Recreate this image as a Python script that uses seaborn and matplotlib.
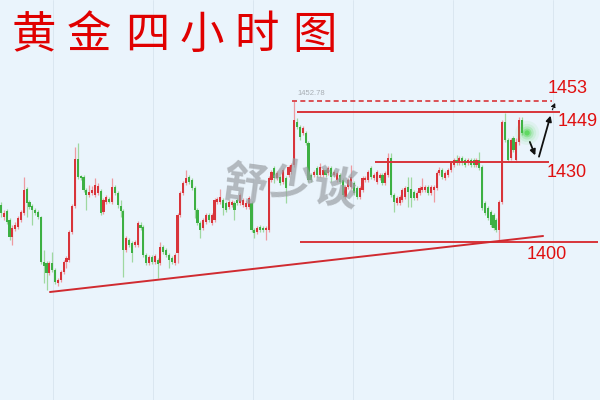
import numpy as np
import pandas as pd
import matplotlib
matplotlib.use("Agg")
import matplotlib.pyplot as plt
import seaborn as sns

title = "黄金四小时图"
watermark = "舒少谈"

opens = [1413.9,1409.4,1411.6,1408.25,1401.9,1404.9,1405.6,1408.25,1410.9,1419.9,
         1415.0,1413.5,1412.0,1411.25,1409.4,1392.5,1392.1,1388.4,1392.1,1389.5,
         1384.6,1385.75,1388.75,1392.5,1393.25,1403.75,1413.5,1431.1,1424.75,1424.4,
         1419.5,1417.6,1418.4,1417.6,1418.4,1419.1,1411.25,1415.0,1416.1,1415.0,
         1420.6,1418.4,1413.5,1411.6,1397.0,1400.75,1399.6,1398.9,1398.9,1406.4,
         1405.6,1395.1,1392.1,1394.4,1392.5,1393.25,1392.1,1398.1,1397.0,1395.1,
         1394.0,1392.1,1395.9,1410.1,1418.4,1422.1,1424.4,1423.25,1420.25,1412.0,
         1407.1,1405.25,1407.5,1410.1,1407.1,1408.25,1415.0,1415.0,1415.75,1414.6,
         1413.1,1413.9,1414.6,1415.75,1414.6,1413.9,1413.1,1413.1,1414.6,1404.5,
         1403.75,1405.6,1405.25,1404.5,1404.5,1423.25,1427.75,1424.0,1424.4,1422.5,
         1424.0,1425.1,1426.25,1428.9,1445.0,1443.1,1440.9,1440.9,1437.1,1425.1,
         1425.1,1427.75,1425.1,1425.1,1427.0,1425.9,1427.75,1425.1,1423.25,1425.1,
         1423.25,1416.9,1420.6,1420.6,1422.1,1420.25,1416.9,1419.5,1423.25,1423.25,
         1427.75,1424.0,1422.5,1424.0,1425.1,1422.1,1425.1,1431.5,1417.6,1414.6,
         1414.6,1415.75,1416.9,1420.6,1419.9,1418.75,1416.5,1418.4,1419.5,1419.5,
         1420.6,1418.4,1419.5,1420.25,1425.9,1427.0,1424.0,1425.1,1427.0,1428.9,
         1430.75,1429.6,1431.5,1430.75,1429.6,1430.75,1430.75,1428.9,1430.75,1428.1,
         1414.6,1412.75,1411.25,1410.1,1408.25,1404.5,1415.0,1445.0,1438.25,1431.5,
         1439.0,1430.75,1437.5,1445.75]
closes = [1410.9,1410.9,1407.5,1401.9,1405.25,1406.4,1409.0,1411.25,1419.5,1414.6,
          1413.1,1412.0,1410.9,1409.4,1392.5,1391.0,1388.4,1392.1,1389.5,1385.0,
          1385.75,1388.75,1392.5,1394.0,1403.75,1413.5,1431.1,1424.4,1424.0,1419.5,
          1417.6,1418.75,1419.5,1421.4,1421.0,1410.9,1415.75,1416.9,1415.0,1420.6,
          1418.4,1413.9,1411.6,1397.0,1401.5,1398.9,1395.9,1400.0,1407.1,1405.25,
          1395.1,1392.1,1394.4,1392.5,1394.75,1391.75,1398.1,1396.25,1395.1,1393.25,
          1392.5,1395.1,1410.1,1418.4,1422.1,1424.0,1422.5,1420.25,1412.0,1407.1,
          1404.5,1408.25,1410.1,1408.25,1410.1,1415.75,1416.1,1416.9,1412.75,1412.0,
          1415.0,1415.0,1412.0,1414.6,1417.6,1415.75,1414.6,1416.5,1404.5,1403.4,
          1405.25,1404.5,1404.5,1405.25,1424.0,1426.25,1424.0,1425.9,1422.1,1427.0,
          1420.25,1428.1,1428.9,1445.75,1443.1,1439.4,1442.75,1437.1,1423.25,1423.25,
          1426.25,1425.1,1428.1,1427.0,1425.1,1427.75,1424.4,1426.25,1425.9,1422.5,
          1417.6,1420.6,1423.25,1424.4,1418.4,1416.9,1420.25,1424.0,1424.0,1426.25,
          1424.4,1425.1,1426.25,1425.1,1422.1,1425.9,1431.5,1417.6,1415.0,1416.5,
          1416.9,1419.5,1420.25,1418.75,1416.5,1416.5,1418.4,1420.25,1420.6,1420.6,
          1418.4,1420.6,1420.6,1425.9,1427.0,1424.4,1425.9,1427.0,1429.6,1430.75,
          1429.6,1431.5,1429.6,1428.9,1430.75,1428.9,1428.9,1430.75,1427.75,1412.75,
          1410.9,1409.0,1406.4,1405.25,1404.5,1415.0,1445.0,1438.25,1430.75,1438.25,
          1434.5,1437.5,1445.75,1440.9]
highs = [1415.0,1412.0,1412.4,1409.0,1406.4,1407.5,1409.75,1412.0,1424.4,1420.6,
         1415.75,1414.25,1412.75,1412.0,1409.75,1397.0,1392.9,1392.9,1396.25,1390.25,
         1386.5,1389.5,1393.25,1394.75,1404.5,1414.25,1435.6,1437.1,1425.1,1425.1,
         1420.25,1421.4,1421.0,1424.0,1422.1,1419.9,1416.5,1417.6,1416.9,1424.0,
         1421.4,1419.1,1415.75,1412.4,1402.25,1401.5,1400.4,1400.75,1407.9,1407.5,
         1406.4,1395.9,1395.1,1395.1,1395.5,1394.0,1400.0,1398.9,1397.75,1395.9,
         1394.75,1395.9,1410.9,1419.1,1422.9,1427.0,1425.1,1424.0,1421.0,1412.75,
         1407.9,1409.0,1410.9,1410.9,1410.9,1416.5,1416.9,1419.9,1416.5,1415.4,
         1415.75,1415.75,1415.4,1416.5,1418.4,1416.5,1415.75,1417.25,1415.4,1405.25,
         1406.0,1406.4,1406.0,1406.0,1424.75,1427.0,1428.5,1426.6,1425.1,1427.75,
         1424.75,1428.9,1429.6,1452.78,1446.5,1443.9,1443.5,1441.6,1437.9,1425.9,
         1427.0,1428.5,1429.6,1427.75,1427.75,1428.5,1428.5,1427.0,1426.6,1425.9,
         1424.0,1421.4,1424.0,1428.9,1422.9,1421.0,1421.0,1424.75,1424.75,1427.0,
         1428.5,1425.9,1427.0,1425.9,1425.9,1426.6,1433.4,1433.4,1418.4,1417.25,
         1417.6,1420.25,1421.0,1424.4,1424.4,1419.5,1419.1,1421.0,1424.0,1421.4,
         1421.4,1421.4,1421.4,1426.6,1428.1,1427.75,1426.6,1427.75,1430.4,1431.5,
         1432.6,1432.25,1432.25,1431.5,1431.5,1431.5,1431.5,1431.5,1433.75,1428.9,
         1415.4,1413.5,1412.0,1410.9,1409.0,1415.75,1445.75,1448.4,1439.0,1439.0,
         1439.75,1439.0,1446.9,1446.9]
lows = [1409.4,1408.25,1406.75,1400.75,1398.9,1404.1,1404.9,1407.5,1410.1,1409.4,
        1412.4,1406.4,1410.1,1408.6,1391.75,1384.6,1382.0,1387.6,1388.75,1384.25,
        1383.5,1385.0,1388.0,1390.25,1392.5,1403.0,1412.75,1423.6,1423.25,1418.75,
        1412.0,1416.9,1417.6,1416.9,1417.6,1410.1,1410.5,1414.25,1414.6,1414.25,
        1417.6,1412.75,1409.4,1386.9,1396.25,1398.1,1392.5,1398.1,1398.1,1404.5,
        1394.4,1391.4,1391.4,1391.75,1391.75,1386.5,1391.4,1395.5,1394.4,1390.25,
        1391.75,1391.4,1392.1,1409.4,1417.6,1421.4,1421.75,1419.5,1409.0,1406.4,
        1401.5,1404.5,1406.75,1407.5,1406.4,1407.5,1414.25,1414.25,1410.1,1411.25,
        1412.4,1413.1,1408.25,1413.9,1413.9,1413.1,1412.4,1412.4,1403.75,1401.5,
        1403.0,1403.75,1403.75,1400.75,1403.75,1422.5,1422.1,1423.25,1421.4,1421.75,
        1414.6,1424.4,1425.5,1428.1,1442.4,1438.25,1440.1,1436.4,1422.5,1422.5,
        1424.4,1424.4,1424.4,1424.4,1424.4,1425.1,1422.5,1424.4,1422.5,1421.75,
        1416.9,1416.1,1419.9,1419.9,1417.6,1416.1,1416.1,1418.75,1422.5,1422.5,
        1423.6,1423.25,1421.75,1423.25,1421.4,1421.4,1424.4,1416.9,1411.25,1413.9,
        1413.9,1415.0,1416.1,1413.1,1413.1,1415.75,1415.75,1417.6,1418.75,1418.75,
        1417.6,1417.6,1415.0,1419.5,1425.1,1423.6,1423.25,1424.4,1426.25,1428.1,
        1428.9,1428.9,1428.9,1428.1,1428.9,1428.1,1428.1,1428.1,1427.0,1412.0,
        1410.1,1408.25,1405.6,1404.5,1403.75,1400.75,1414.25,1437.5,1430.0,1430.75,
        1433.75,1430.0,1436.4,1440.1]

level_values = [1452.78, 1448.6, 1430.0, 1400.0]
level_labels = ["1453", "1449", "1430", "1400"]
peak_label = "1452.78"
trend_start = (17.2, 1381.25)
trend_end = (190.4, 1402.25)

df = pd.DataFrame({"open": opens, "high": highs, "low": lows, "close": closes})
df["idx"] = np.arange(len(df))
df["up"] = df["close"] >= df["open"]

sns.set_theme(style="white")
plt.rcParams["font.family"] = ["Liberation Sans", "Noto Sans CJK SC", "DejaVu Sans"]

BG = "#EAF4FC"
RED = "#D8343A"
GREEN = "#3DB043"
fig = plt.figure(figsize=(6, 4), dpi=100, facecolor=BG)
ax = fig.add_axes([0, 0, 1, 1])
ax.set_facecolor(BG)
ax.set_xlim(-0.351, 210.4)
ax.set_ylim(1340.75, 1490.75)
ax.axis("off")

# faint vertical grid lines
for gx in [18.3, 53.5, 88.6, 123.7, 158.8, 193.9]:
    ax.axvline(gx, color="#D8E4EE", lw=0.6, zorder=0)

# candles
for up, sub in df.groupby("up"):
    col = RED if up else GREEN
    wick = "#EE9AA0" if up else "#9ED8A0"
    ax.vlines(sub["idx"], sub["low"], sub["high"], color=wick, lw=0.9, zorder=2)
    bottom = np.minimum(sub["open"], sub["close"])
    height = np.maximum(np.abs(sub["close"] - sub["open"]), 0.6)
    ax.bar(sub["idx"], height, bottom=bottom, width=0.75, color=col, lw=0, zorder=3)

# horizontal levels
ax.hlines(level_values[0], 102.2, 193.5, color="#D8343A", lw=1.2, ls=(0, (3, 2)), zorder=4)
ax.hlines(level_values[1], 104.0, 196.3, color="#D8343A", lw=1.4, zorder=4)
ax.hlines(level_values[2], 131.4, 192.5, color="#D8343A", lw=1.4, zorder=4)
ax.hlines(level_values[3], 105.0, 209.7, color="#D8343A", lw=1.4, zorder=4)
sns.lineplot(x=[trend_start[0], trend_end[0]], y=[trend_start[1], trend_end[1]],
             ax=ax, color="#D02A30", lw=1.4, zorder=4)

ax.text(104.0, 1454.4, peak_label, fontsize=5.5, color="#A8AEB4", va="bottom", ha="left")

lab_pos = [(192.0, 1457.5), (195.5, 1445.0), (191.5, 1426.0), (184.8, 1395.3)]
for (lx, ly), t in zip(lab_pos, level_labels):
    ax.text(lx, ly, t, fontsize=13, color="#E01010", va="center", ha="left")

# arrows
ax.annotate("", xy=(188.0, 1431.5), xytext=(185.4, 1438.5),
            arrowprops=dict(arrowstyle="-|>", color="#111111", lw=1.3, mutation_scale=8))
ax.annotate("", xy=(193.3, 1448.4), xytext=(188.7, 1431.0),
            arrowprops=dict(arrowstyle="-|>", color="#111111", lw=1.3, mutation_scale=8))
ax.annotate("", xy=(195.0, 1453.2), xytext=(193.3, 1448.6),
            arrowprops=dict(arrowstyle="-|>", color="#111111", lw=0.8, ls=(0, (2, 1)), mutation_scale=6))

# green glow
for s, a in [(300, 0.07), (170, 0.11), (90, 0.2), (40, 0.35), (14, 0.7)]:
    sns.scatterplot(x=[184.8], y=[1440.9], ax=ax, s=s, color="#4CD64C", alpha=a,
                    edgecolor="none", zorder=5, legend=False)

# watermark, one glyph at a time
wm_pos = [(85.7, 1421.0), (102.5, 1422.0), (117.3, 1419.5)]
for (wx, wy), ch in zip(wm_pos, watermark):
    ax.text(wx, wy, ch, fontsize=32, color="#9A9FA4", alpha=0.7, ha="center", va="center",
            rotation=-8, family=["Noto Sans CJK SC"], fontweight="bold", zorder=3)

# title, one glyph at a time
title_x = [34, 89, 147, 202, 257, 315]
for tx, ch in zip(title_x, title):
    fig.text(tx / 600, 1 - 35 / 400, ch, fontsize=32, color="#E00000", ha="center",
             va="center", family=["Noto Sans CJK SC"], fontweight="normal")

fig.savefig("out.png", dpi=100, facecolor=BG)
